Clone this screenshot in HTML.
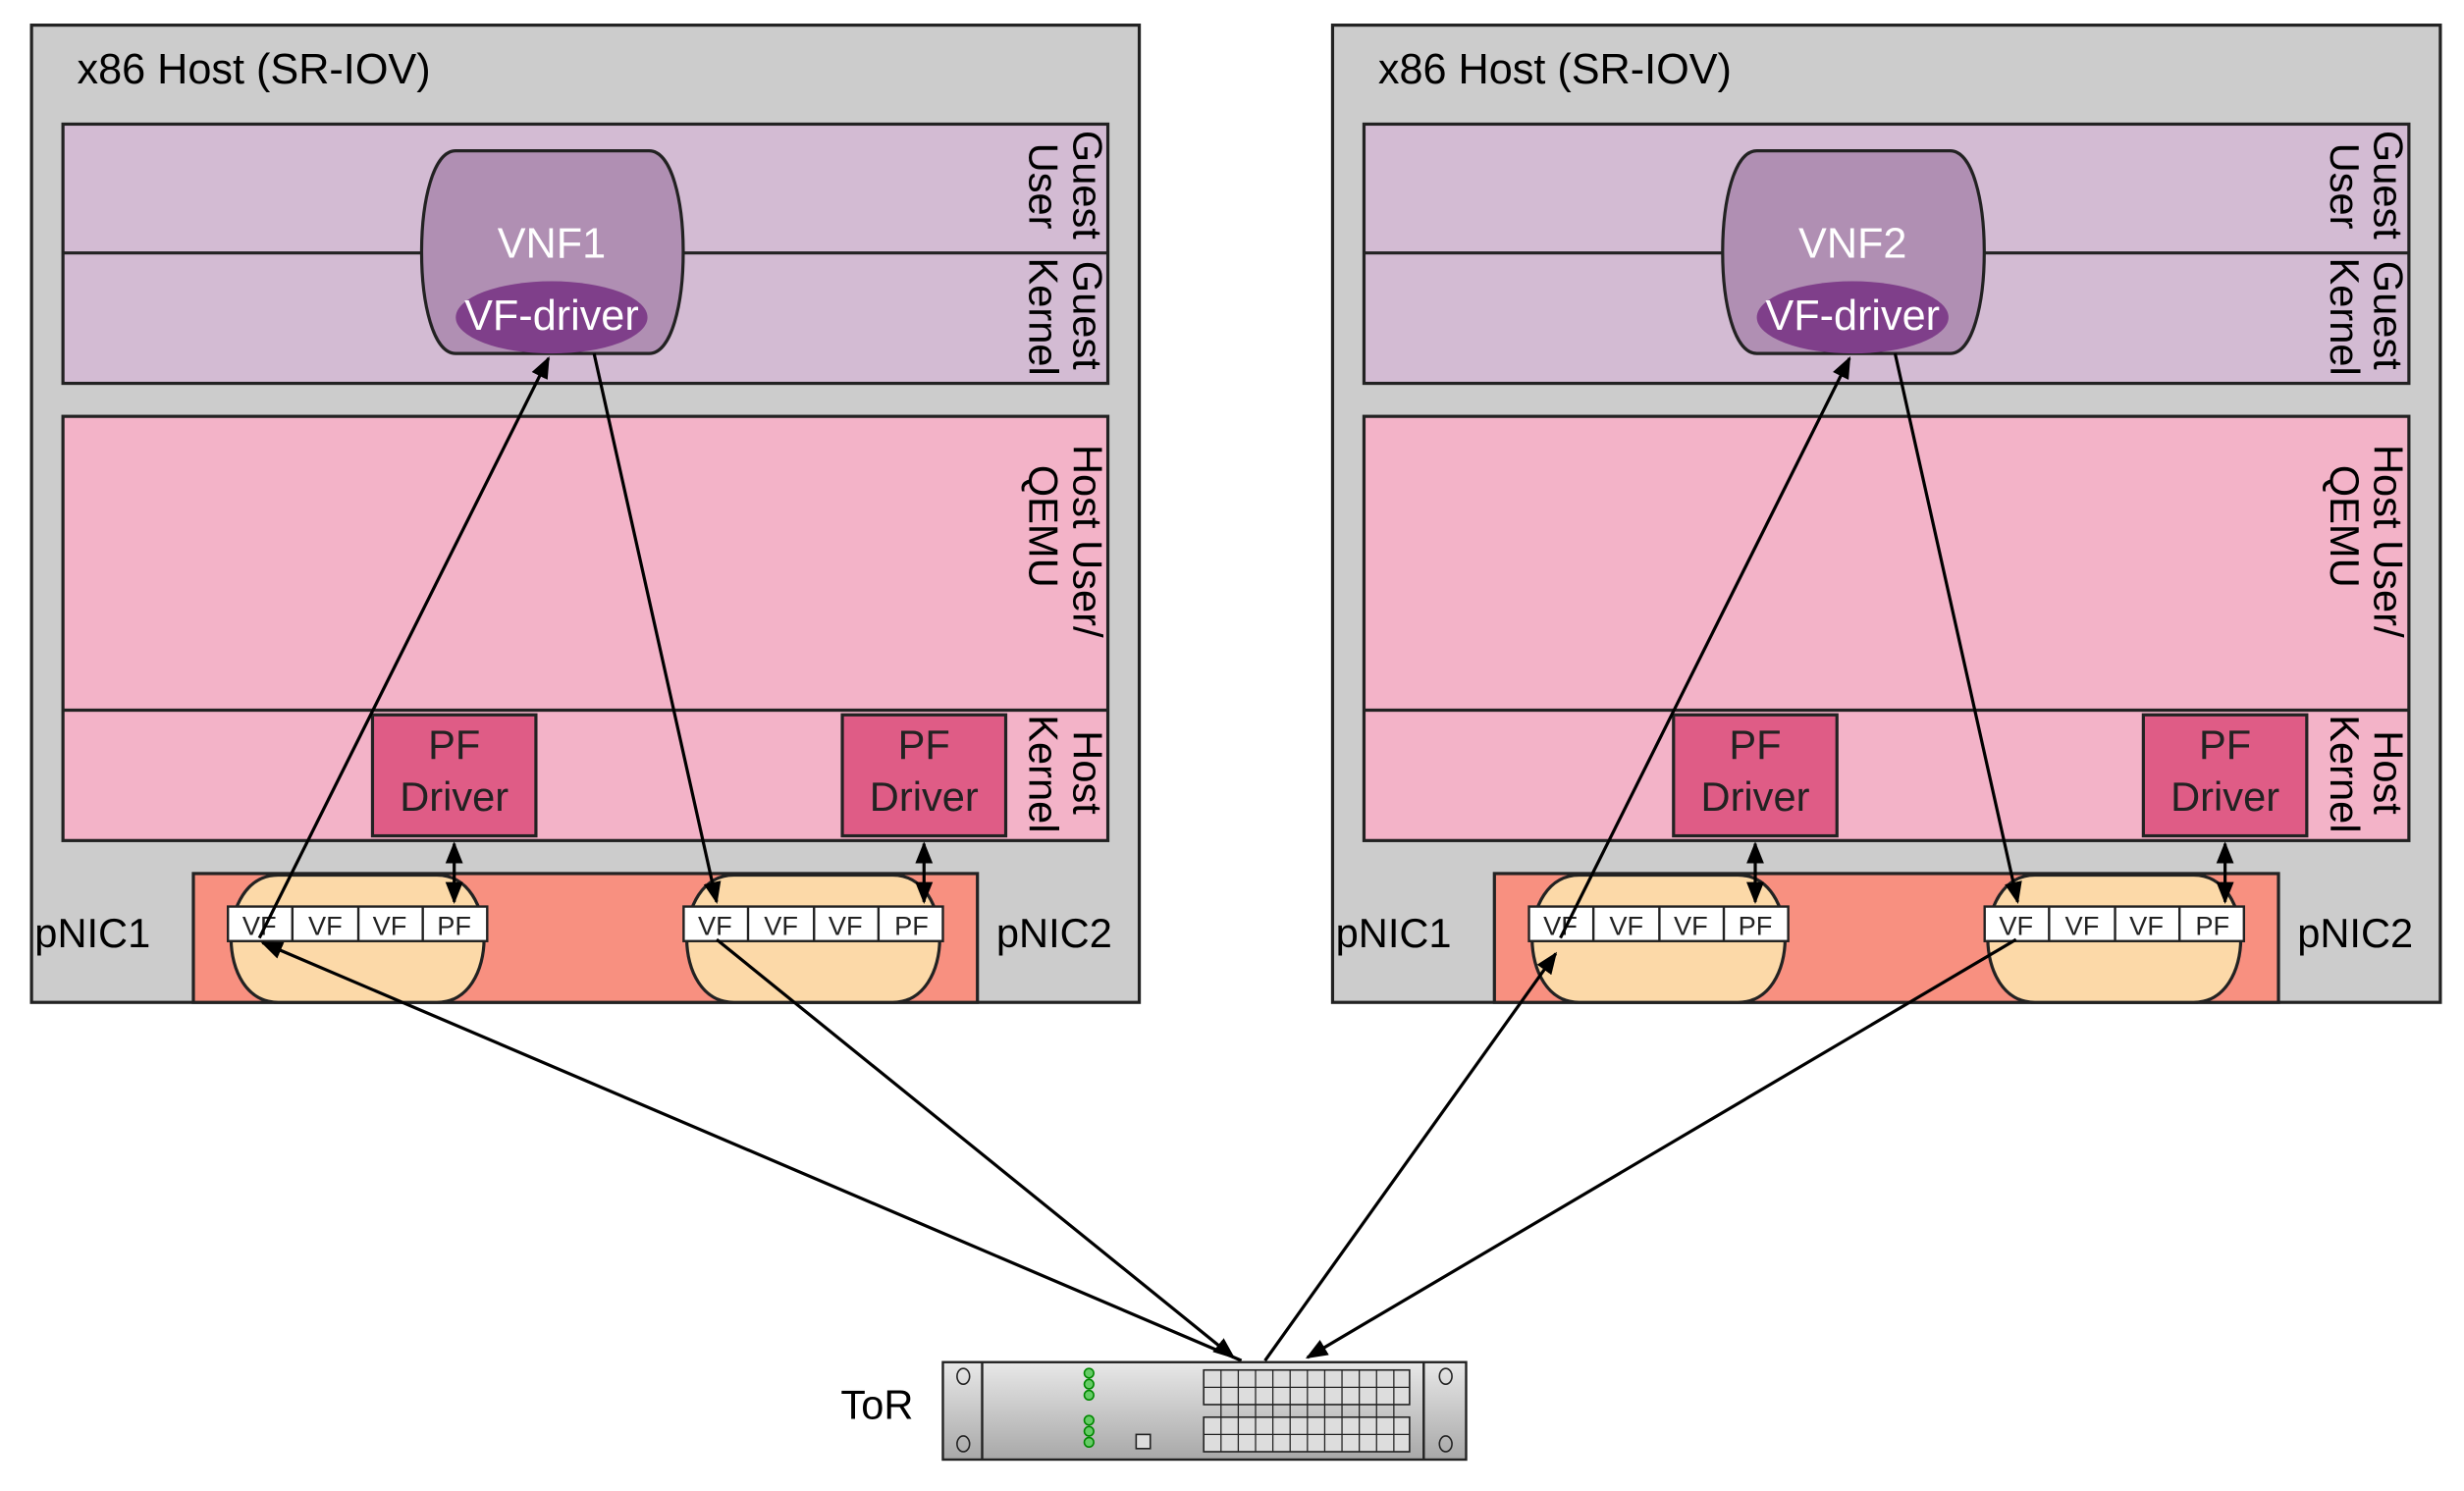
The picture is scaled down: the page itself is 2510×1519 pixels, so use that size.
<!DOCTYPE html>
<html><head><meta charset="utf-8"><style>
html,body{margin:0;padding:0;background:#fff}
svg{display:block}
text{font-family:"Liberation Sans",sans-serif}
</style></head><body>
<svg width="2510" height="1519" viewBox="0 0 1568 949" xmlns="http://www.w3.org/2000/svg">
<defs>
<marker id="ah" viewBox="0 0 10 10" refX="9" refY="5" markerWidth="7" markerHeight="7" orient="auto-start-reverse">
<path d="M0,1 L10,5 L0,9 z" fill="#000"/></marker>
<linearGradient id="tor" x1="0" y1="0" x2="0" y2="1"><stop offset="0" stop-color="#e8e8e8"/><stop offset="1" stop-color="#a8a8a8"/></linearGradient>
<g id="host">
<rect x="20" y="16" width="705" height="622" fill="#cccccc" stroke="#222" stroke-width="2"/>
<text x="49" y="53" font-size="27">x86 Host (SR-IOV)</text>
<rect x="40" y="79" width="665" height="165" fill="#d3bbd3" stroke="#222" stroke-width="2"/>
<line x1="40" y1="161" x2="705" y2="161" stroke="#222" stroke-width="2"/>
<rect x="40" y="265" width="665" height="270" fill="#f3b3c8" stroke="#222" stroke-width="2"/>
<line x1="40" y1="452" x2="705" y2="452" stroke="#222" stroke-width="2"/>
<g font-size="26">
<text transform="translate(683,83) rotate(90)">Guest</text>
<text transform="translate(655,91) rotate(90)">User</text>
<text transform="translate(683,166) rotate(90)">Guest</text>
<text transform="translate(655,164) rotate(90)">Kernel</text>
<text transform="translate(683,283) rotate(90)">Host User/</text>
<text transform="translate(655,296) rotate(90)">QEMU</text>
<text transform="translate(683,465) rotate(90)">Host</text>
<text transform="translate(655,455) rotate(90)">Kernel</text>
</g>
<path d="M290,96 H413 C442,96 442,225 413,225 H290 C261,225 261,96 290,96 Z" fill="#b08fb3" stroke="#222" stroke-width="2"/>
<ellipse cx="351" cy="202" rx="61" ry="23" fill="#7f3f8a"/>
<text x="351" y="210" font-size="27" fill="#fff" text-anchor="middle">VF-driver</text>
<rect x="237" y="455" width="104" height="77" fill="#df5c86" stroke="#222" stroke-width="2"/>
<rect x="536" y="455" width="104" height="77" fill="#df5c86" stroke="#222" stroke-width="2"/>
<text x="289" y="483" font-size="26" text-anchor="middle" fill="#222">PF</text>
<text x="289" y="516" font-size="26" text-anchor="middle" fill="#222">Driver</text>
<text x="588" y="483" font-size="26" text-anchor="middle" fill="#222">PF</text>
<text x="588" y="516" font-size="26" text-anchor="middle" fill="#222">Driver</text>
<rect x="123" y="556" width="499" height="82" fill="#f89080" stroke="#222" stroke-width="2"/>
<path d="M177,557 H278 C318,557 318,638 278,638 H177 C137,638 137,557 177,557 Z" fill="#fcd9a8" stroke="#222" stroke-width="2"/>
<path d="M467,557 H568 C608,557 608,638 568,638 H467 C427,638 427,557 467,557 Z" fill="#fcd9a8" stroke="#222" stroke-width="2"/>
<g stroke="#222" stroke-width="1.5" fill="#fff">
<rect x="145" y="577" width="165" height="22"/>
<line x1="186" y1="577" x2="186" y2="599"/><line x1="228" y1="577" x2="228" y2="599"/><line x1="269" y1="577" x2="269" y2="599"/>
<rect x="435" y="577" width="165" height="22"/>
<line x1="476" y1="577" x2="476" y2="599"/><line x1="518" y1="577" x2="518" y2="599"/><line x1="559" y1="577" x2="559" y2="599"/>
</g>
<g font-size="17" text-anchor="middle" fill="#222">
<text x="165" y="595">VF</text><text x="207" y="595">VF</text><text x="248" y="595">VF</text><text x="289" y="595">PF</text>
<text x="455" y="595">VF</text><text x="497" y="595">VF</text><text x="538" y="595">VF</text><text x="580" y="595">PF</text>
</g>
<text x="22" y="603" font-size="26">pNIC1</text>
<text x="634" y="603" font-size="26">pNIC2</text>
<g stroke="#000" stroke-width="2" fill="none">
<line x1="165" y1="597" x2="349" y2="228" marker-end="url(#ah)"/>
<line x1="378" y1="225" x2="456" y2="574" marker-end="url(#ah)"/>
<line x1="289" y1="537" x2="289" y2="574" marker-end="url(#ah)" marker-start="url(#ah)"/>
<line x1="588" y1="537" x2="588" y2="574" marker-end="url(#ah)" marker-start="url(#ah)"/>
</g>
</g>
</defs>
<use href="#host"/>
<use href="#host" transform="translate(828,0)"/>
<text x="351" y="164" font-size="27" fill="#fff" text-anchor="middle">VNF1</text>
<text x="1179" y="164" font-size="27" fill="#fff" text-anchor="middle">VNF2</text>
<g stroke="#000" stroke-width="2" fill="none">
<line x1="790" y1="866" x2="167" y2="600" marker-end="url(#ah)"/>
<line x1="456" y1="598" x2="785" y2="864" marker-end="url(#ah)"/>
<line x1="805" y1="866" x2="990" y2="607" marker-end="url(#ah)"/>
<line x1="1283" y1="598" x2="832" y2="864" marker-end="url(#ah)"/>
</g>
<text x="535" y="903" font-size="26">ToR</text>
<rect x="600" y="867" width="333" height="62" fill="url(#tor)" stroke="#222" stroke-width="1.5"/>
<line x1="625" y1="867" x2="625" y2="929" stroke="#222" stroke-width="1.5"/>
<line x1="906" y1="867" x2="906" y2="929" stroke="#222" stroke-width="1.5"/>
<g fill="none" stroke="#222"><ellipse cx="613" cy="876" rx="4" ry="5"/><ellipse cx="613" cy="919" rx="4" ry="5"/><ellipse cx="920" cy="876" rx="4" ry="5"/><ellipse cx="920" cy="919" rx="4" ry="5"/></g>
<g fill="#6c6" stroke="#080"><circle cx="693" cy="874" r="3"/><circle cx="693" cy="881" r="3"/><circle cx="693" cy="888" r="3"/><circle cx="693" cy="904" r="3"/><circle cx="693" cy="911" r="3"/><circle cx="693" cy="918" r="3"/></g>
<rect x="723" y="913" width="9" height="9" fill="#ddd" stroke="#222"/>
<rect x="766" y="872" width="131" height="22" fill="#ddd" stroke="#222"/>
<rect x="766" y="902" width="131" height="22" fill="#ddd" stroke="#222"/>
<g stroke="#222" stroke-width="0.8">
<line x1="766" y1="883" x2="897" y2="883"/><line x1="766" y1="913" x2="897" y2="913"/>
<line x1="777" y1="872" x2="777" y2="924"/><line x1="788" y1="872" x2="788" y2="924"/><line x1="799" y1="872" x2="799" y2="924"/><line x1="810" y1="872" x2="810" y2="924"/><line x1="821" y1="872" x2="821" y2="924"/><line x1="832" y1="872" x2="832" y2="924"/><line x1="843" y1="872" x2="843" y2="924"/><line x1="854" y1="872" x2="854" y2="924"/><line x1="865" y1="872" x2="865" y2="924"/><line x1="876" y1="872" x2="876" y2="924"/><line x1="887" y1="872" x2="887" y2="924"/>
</g>
</svg>
</body></html>
